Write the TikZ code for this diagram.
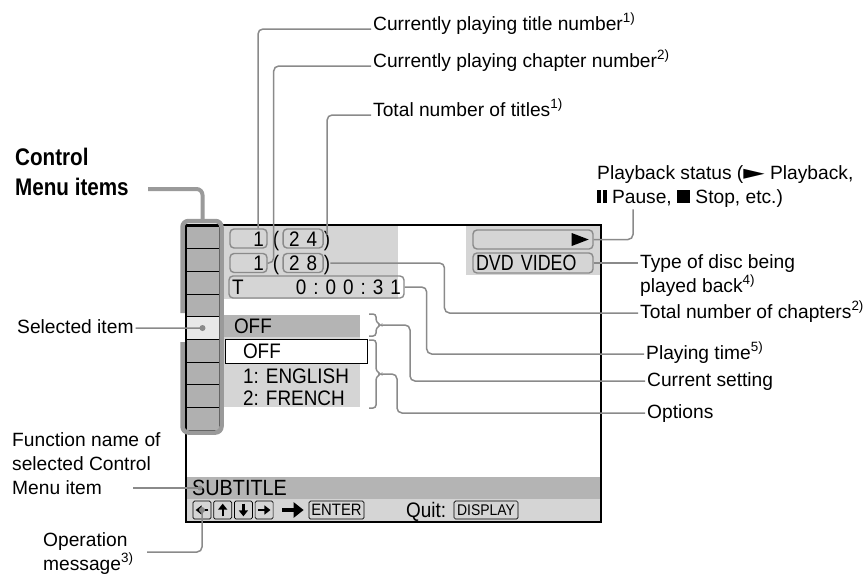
\documentclass[tikz,border=0pt]{standalone}
\usepackage{fontspec}
\setmainfont{Liberation Sans}
\newfontfamily\dejafont{DejaVu Sans}
\newfontfamily\screenfont[FakeStretch=0.9]{Liberation Sans}
\newfontfamily\narrowfont[FakeStretch=0.81]{Liberation Sans}
\newfontfamily\ctrlfont[FakeStretch=0.86]{Liberation Sans}
\usepackage{tikz}
\usetikzlibrary{arrows.meta, positioning}

\definecolor{linegray}{HTML}{8A8A8A}
\definecolor{framegray}{HTML}{9A9A9A}
\definecolor{bandgray}{HTML}{B4B4B4}
\definecolor{scrlight}{HTML}{D5D5D5}
\definecolor{cellgray}{HTML}{B0B0B0}
\definecolor{selgray}{HTML}{E8E8E8}

\newcommand{\tsp}{\hspace{7pt}}
\newcommand{\playsym}{\scalebox{1.45}[1.05]{\dejafont ►}}
\newcommand{\pausesym}{\rule{3.5pt}{13pt}\hspace{2.5pt}\rule{3.5pt}{13pt}}
\newcommand{\stopsym}{\rule{13pt}{13pt}}

\begin{document}
\begin{tikzpicture}[x=1pt, y=-1pt,
  lbl/.style={font=\fontsize{19.2}{24}\selectfont, inner sep=2pt, anchor=west,
              text height=14pt, text depth=4pt},
  lblml/.style={font=\fontsize{19.2}{24}\selectfont, inner sep=2pt,
                anchor=north west, align=left},
  scrtext/.style={font=\screenfont\fontsize{21}{24}\selectfont, inner sep=0pt,
                  text height=15pt, text depth=0pt},
  numbox/.style={draw=linegray, line width=1.4pt, rounded corners=4pt,
                 minimum height=19pt, inner xsep=3pt, inner ysep=0pt,
                 font=\screenfont\fontsize{21}{24}\selectfont,
                 text height=15pt, text depth=0pt},
  scrbar/.style={inner ysep=0pt, align=left,
                 font=\screenfont\fontsize{21}{24}\selectfont,
                 text height=15pt, text depth=0pt},
  key/.style={draw=black, line width=0.7pt, rounded corners=1.5pt,
              minimum width=18pt, minimum height=18pt, inner sep=0pt,
              font=\screenfont\fontsize{16.5}{17}\selectfont},
  cell/.style={draw=black, line width=0.9pt, minimum width=33pt,
               minimum height=22.67pt, inner sep=0pt},
  callout/.style={draw=linegray, line width=1.5pt, rounded corners=5pt},
  glyph/.style={line width=2.4pt, -{Triangle[length=6pt, width=9pt]}}
]
\useasboundingbox (0,0) rectangle (868,582);

% screen backgrounds
\fill[scrlight] (224,226) rectangle (398,299);
\fill[scrlight] (466,226) rectangle (600,275);
\fill[scrlight] (224,337) rectangle (360,407);
\fill[bandgray] (187,477) rectangle (600,499);
\fill[scrlight] (187,499) rectangle (600,521);
\draw[line width=1.8pt] (186,225) rectangle (601,522);

% control menu column
\foreach \i/\shade in {1/cellgray,2/cellgray,3/cellgray,4/cellgray,5/selgray,
                       6/cellgray,7/cellgray,8/cellgray,9/cellgray}
  \node[cell, fill=\shade] (cell\i) at (202.5,{226+(\i-0.5)*22.67}) {};
\draw[framegray, line width=4.5pt, rounded corners=6pt]
  (182.5,313) -- (182.5,221) -- (221.5,221) -- (221.5,432.5)
  -- (182.5,432.5) -- (182.5,342);
\fill[linegray] (cell5) circle (3pt);

% title, chapter and time
\node[numbox, text width=31pt, align=right] (titleNo) at (248.5,238.5) {1};
\node[scrtext, right=5pt of titleNo] (lparA) {(};
\node[numbox, minimum width=40pt, right=3pt of lparA] (titleTot) {2\tsp 4};
\node[scrtext, right=0pt of titleTot] (rparA) {)};
\node[numbox, text width=31pt, align=right] (chapNo) at (248.5,263) {1};
\node[scrtext, right=5pt of chapNo] (lparB) {(};
\node[numbox, minimum width=40pt, right=3pt of lparB] (chapTot) {2\tsp 8};
\node[scrtext, right=0pt of chapTot] (rparB) {)};
\node[numbox, minimum height=22pt, text width=169pt, align=left] (time) at (316.5,287)
  {T\hfill 0\tsp:\tsp 0\tsp 0\tsp:\tsp 3\tsp 1\hspace{10pt}};

% status and disc
\node[numbox, minimum width=120pt] (play) at (533,239.5) {};
\fill ([xshift=-5pt]play.east) -- ++(-17,-6.5) -- ++(0,13) -- cycle;
\node[numbox, minimum width=120pt, minimum height=20pt, text width=114pt, align=left,
      font=\narrowfont\fontsize{22}{24}\selectfont] (disc) at (533,263) {DVD VIDEO};

% setting and options
\node[scrbar, fill=bandgray, minimum width=136pt, minimum height=22pt,
      inner xsep=10pt, text width=116pt] (curSet) at (292,326) {OFF};
\node[scrbar, draw=black, fill=white, line width=1pt, minimum width=142pt,
      minimum height=24pt, inner xsep=18pt, text width=106pt] (optOff) at (296,351) {OFF};
\node[scrtext, anchor=west] (optEng) at (243,376) {1: ENGLISH};
\node[scrtext, anchor=west] (optFre) at (243,398) {2: FRENCH};
\draw[callout, rounded corners=3pt] (369,314) -- (376,314) -- (376,322) -- (381,325)
  -- (376,328) -- (376,336) -- (369,336);
\coordinate (curBr) at (381,325);
\draw[callout, rounded corners=3pt] (369,340) -- (376,340) -- (376,371) -- (381,374)
  -- (376,377) -- (376,408) -- (369,408);
\coordinate (optBr) at (381,374);

% bottom band
\node[scrtext, anchor=west, font=\screenfont\fontsize{22}{24}\selectfont]
  (funcName) at (192,488) {SUBTITLE};
\node[key] (keyL) at (202,510) {};
\node[key, right=2pt of keyL] (keyU) {};
\node[key, right=2pt of keyU] (keyD) {};
\node[key, right=2pt of keyD] (keyR) {};
\draw[glyph] ([xshift=-3pt]keyL.east) -- ([xshift=3pt]keyL.west);
\draw[glyph] ([yshift=3pt]keyU.south) -- ([yshift=-3pt]keyU.north);
\draw[glyph] ([yshift=-3pt]keyD.north) -- ([yshift=3pt]keyD.south);
\draw[glyph] ([xshift=3pt]keyR.west) -- ([xshift=-3pt]keyR.east);
\node[key, minimum width=55pt] (enterKey) at (336.5,510) {ENTER};
\draw[line width=4.5pt, -{Triangle[length=10pt, width=15pt]}]
  ([xshift=9pt]keyR.east) -- ([xshift=-5pt]enterKey.west);
\node[scrtext, anchor=west] (quit) at (406,510) {Quit:};
\node[key, minimum width=64pt, font=\screenfont\fontsize{15.5}{16}\selectfont]
  (dispKey) at (486,510) {DISPLAY};
\fill[linegray] (keyL) circle (3pt);
\fill[linegray] ([xshift=8pt]funcName.west) circle (2.5pt);

% labels
\node[lbl] (lblTitleNo) at (371,25.5) {Currently playing title number\textsuperscript{1)}};
\node[lbl] (lblChapNo) at (371,62.5) {Currently playing chapter number\textsuperscript{2)}};
\node[lbl] (lblTitles) at (371,111.5) {Total number of titles\textsuperscript{1)}};
\node[lblml] (lblStatus) at (595,163)
  {Playback status (\playsym{} Playback,\\\pausesym{} Pause, \stopsym{} Stop, etc.)};
\node[lblml] (lblDisc) at (638,252) {Type of disc being\\played back\textsuperscript{4)}};
\node[lbl] (lblChapters) at (638,313) {Total number of chapters\textsuperscript{2)}};
\node[lbl] (lblTime) at (644,354) {Playing time\textsuperscript{5)}};
\node[lbl] (lblSetting) at (645,381) {Current setting};
\node[lbl] (lblOptions) at (645,413) {Options};
\node[lblml, font=\ctrlfont\bfseries\fontsize{24}{30}\selectfont] (lblCtrl)
  at (13,145.5) {Control\\Menu items};
\node[lbl] (lblSelected) at (15,328) {Selected item};
\node[lblml] (lblFunc) at (10,430) {Function name of\\selected Control\\Menu item};
\node[lblml] (lblOpMsg) at (41,530) {Operation\\message\textsuperscript{3)}};
\coordinate (ctrlEnd) at (148,189);
\coordinate (funcEnd) at (133,488);
\coordinate (opEnd) at (147,552);

% callouts
\draw[callout] ([yshift=-3.5pt]lblTitleNo.west) -| ([xshift=9.5pt]titleNo.north);
\draw[callout] ([yshift=-3.5pt]lblChapNo.west) -| ([xshift=6pt]chapNo.east) -- (chapNo.east);
\draw[callout] ([yshift=-3.5pt]lblTitles.west) -| ([yshift=-4pt]rparA.north);
\draw[callout] (play.east) -| ([xshift=38pt]lblStatus.south west);
\draw[callout] (disc.east) -- (disc.east -| lblDisc.west);
\draw[callout] (rparB.east) -- ++(114,0) |- (lblChapters.west);
\draw[callout] (time.east) -- ++(22,0) |- (lblTime.west);
\draw[callout] (curBr) -- ++(29,0) |- (lblSetting.west);
\draw[callout] (optBr) -- ++(16,0) |- (lblOptions.west);
\draw[callout] (lblSelected.east) -- (cell5.center);
\draw[callout] (funcEnd) -- ([xshift=8pt]funcName.west);
\draw[callout] (opEnd) -| (keyL.center);
\draw[framegray, line width=4pt, rounded corners=6pt] (ctrlEnd) -| ([yshift=4pt]cell1.north);
\end{tikzpicture}
\end{document}
